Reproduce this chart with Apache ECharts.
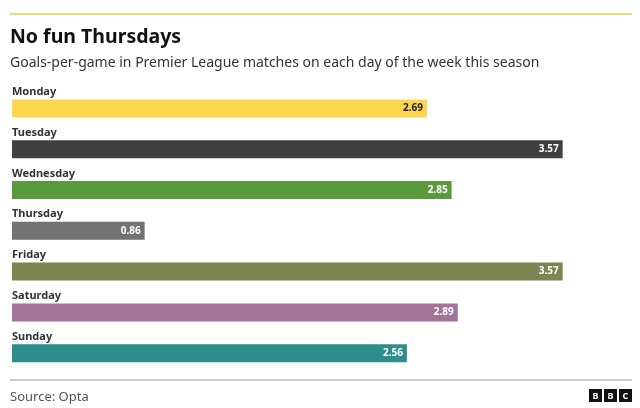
<!DOCTYPE html>
<html>
<head>
<meta charset="utf-8">
<script src="https://cdn.jsdelivr.net/npm/echarts@6/dist/echarts.min.js"></script>
<style>
  html, body { margin: 0; padding: 0; background: #fff; }
  #chart { width: 640px; height: 408px; }
</style>
</head>
<body>
<div id="chart"></div>
<script>
var days = ['Monday', 'Tuesday', 'Wednesday', 'Thursday', 'Friday', 'Saturday', 'Sunday']
var goalsPerGame = [2.69, 3.57, 2.85, 0.86, 3.57, 2.89, 2.56]
var barColors = ['#fdd54f', '#404040', '#5a9a3e', '#727272', '#7b8552', '#a5729a', '#2f8d8c']
var labelColors = ['#222222', '#ffffff', '#ffffff', '#ffffff', '#ffffff', '#ffffff', '#ffffff']

var font = '"Noto Sans", "Open Sans", sans-serif'
var myChart = echarts.init(document.getElementById('chart'))

var barData = goalsPerGame.map(function (v, i) {
    return {
        value: v,
        itemStyle: { color: barColors[i] },
        label: { color: labelColors[i] }
    }
})

myChart.setOption({
    animation: false,
    title: [
        {
            text: 'No fun Thursdays',
            left: 5, top: 22,
            textStyle: { fontFamily: font, fontSize: 19.5, fontWeight: 'bold', color: '#111' }
        },
        {
            text: 'Goals-per-game in Premier League matches on each day of the week this season',
            left: 5, top: 51,
            textStyle: { fontFamily: font, fontSize: 14, fontWeight: 'normal', color: '#333' }
        },
        {
            text: 'Source: Opta',
            left: 5, top: 386,
            textStyle: { fontFamily: font, fontSize: 13, fontWeight: 'normal', color: '#555' }
        }
    ],
    grid: { left: 12, top: 88, width: 617, height: 285.6 },
    xAxis: {
        type: 'value', min: 0, max: 4,
        show: false
    },
    yAxis: {
        type: 'category',
        data: days,
        inverse: true,
        axisLine: { show: false },
        axisTick: { show: false },
        axisLabel: {
            inside: true,
            margin: 0,
            align: 'left',
            verticalAlign: 'bottom',
            padding: [0, 0, 11, 0],
            fontFamily: font,
            fontSize: 11,
            fontWeight: 'bold',
            color: '#333'
        },
        z: 10
    },
    series: [{
        type: 'bar',
        data: barData,
        barWidth: 18,
        label: {
            show: true,
            position: 'insideRight',
            distance: 4,
            fontFamily: font,
            fontSize: 10,
            fontWeight: 'bold'
        }
    }],
    graphic: [
        { type: 'rect', shape: { x: 10, y: 13, width: 622, height: 2 }, style: { fill: '#f2d86f' } },
        { type: 'rect', shape: { x: 10, y: 379, width: 622, height: 2 }, style: { fill: '#cccccc' } },
        { type: 'group', left: 589, top: 389, children: ['B', 'B', 'C'].map(function (ch, i) {
            return {
                type: 'group', x: i * 15, children: [
                    { type: 'rect', shape: { x: 0, y: 0, width: 13, height: 13 }, style: { fill: '#111' } },
                    { type: 'text', style: { text: ch, x: 6.5, y: 7, align: 'center', verticalAlign: 'middle',
                        fill: '#fff', font: 'bold 9px ' + font } }
                ]
            }
        }) }
    ]
})
</script>
</body>
</html>
